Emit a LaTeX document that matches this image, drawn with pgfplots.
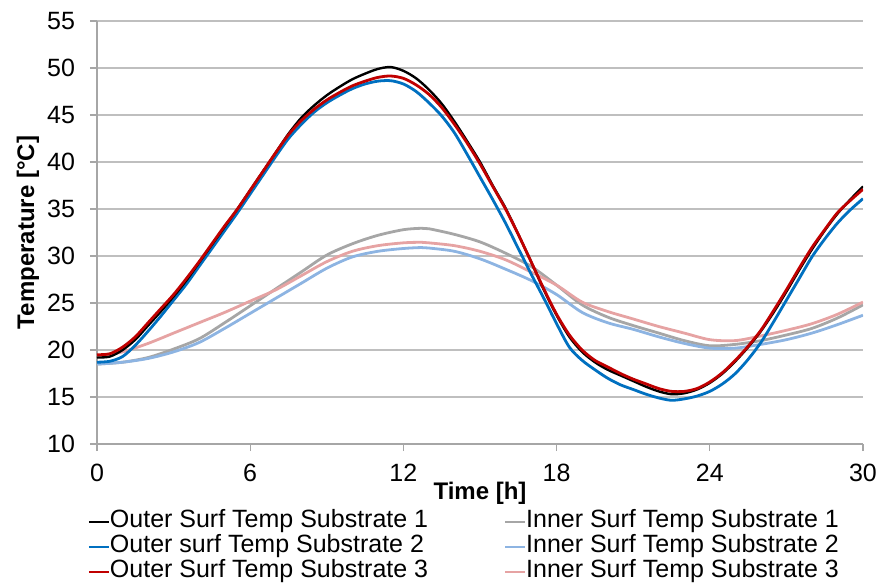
\documentclass[border=0pt]{standalone}
\usepackage{fontspec}
\setmainfont{Liberation Sans}
\usepackage{pgfplots}
\pgfplotsset{compat=1.18}
\definecolor{out2}{HTML}{0070C0}
\definecolor{out3}{HTML}{C00000}
\definecolor{in1}{HTML}{A6A6A6}
\definecolor{in2}{HTML}{8DB4E2}
\definecolor{in3}{HTML}{E6A3A3}
\definecolor{gridc}{HTML}{BFBFBF}
\definecolor{axisc}{HTML}{A6A6A6}

\pgfplotstableread{
x y
0 19.2
0.5 19.3
1 20.0
1.5 21.1
2 22.6
2.5 24.1
3 25.7
3.5 27.4
4 29.3
4.5 31.2
5 33.1
5.5 35.0
6 37.0
6.5 39.0
7 41.0
7.5 43.0
8 44.7
8.5 46.0
9 47.1
9.5 48.0
10 48.8
10.5 49.4
11 49.9
11.5 50.1
12 49.7
12.5 48.9
13 47.7
13.5 46.2
14 44.3
14.5 42.2
15 40.0
15.5 37.5
16 35.1
16.5 32.3
17 29.4
17.5 26.4
18 23.7
18.5 21.4
19 19.8
19.5 18.7
20 17.9
20.5 17.3
21 16.7
21.5 16.1
22 15.6
22.5 15.3
23 15.4
23.5 15.8
24 16.5
24.5 17.5
25 18.8
25.5 20.3
26 22.0
26.5 24.0
27 26.2
27.5 28.5
28 30.7
28.5 32.7
29 34.5
29.5 36.0
30 37.4
}\outA

\pgfplotstableread{
x y
0 18.7
0.5 18.8
1 19.3
1.5 20.5
2 22.0
2.5 23.6
3 25.3
3.5 27.0
4 28.9
4.5 30.8
5 32.7
5.5 34.6
6 36.6
6.5 38.6
7 40.6
7.5 42.5
8 44.0
8.5 45.3
9 46.3
9.5 47.1
10 47.8
10.5 48.3
11 48.6
11.5 48.65
12 48.3
12.5 47.5
13 46.3
13.5 44.9
14 43.1
14.5 40.8
15 38.4
15.5 36.0
16 33.5
16.5 30.8
17 28.1
17.5 25.5
18 22.8
18.5 20.3
19 18.9
19.5 17.9
20 17.0
20.5 16.3
21 15.8
21.5 15.3
22 14.9
22.5 14.65
23 14.8
23.5 15.1
24 15.6
24.5 16.4
25 17.5
25.5 19.0
26 20.8
26.5 23.0
27 25.3
27.5 27.6
28 29.9
28.5 31.8
29 33.5
29.5 34.9
30 36.1
}\outB

\pgfplotstableread{
x y
0 19.5
0.5 19.6
1 20.3
1.5 21.4
2 22.9
2.5 24.4
3 25.9
3.5 27.6
4 29.4
4.5 31.3
5 33.2
5.5 35.0
6 37.0
6.5 39.0
7 41.0
7.5 42.9
8 44.4
8.5 45.6
9 46.6
9.5 47.4
10 48.1
10.5 48.6
11 49.0
11.5 49.15
12 48.9
12.5 48.2
13 47.2
13.5 45.8
14 44.0
14.5 42.0
15 39.8
15.5 37.4
16 35.0
16.5 32.3
17 29.4
17.5 26.5
18 23.8
18.5 21.6
19 20.0
19.5 18.9
20 18.2
20.5 17.5
21 16.9
21.5 16.4
22 15.9
22.5 15.6
23 15.6
23.5 15.9
24 16.6
24.5 17.6
25 18.9
25.5 20.4
26 22.1
26.5 24.2
27 26.4
27.5 28.7
28 30.9
28.5 32.8
29 34.6
29.5 35.9
30 37.1
}\outC

\pgfplotstableread{
x y
0 18.5
1 18.7
2 19.2
3 20.1
4 21.2
5 22.9
6 24.7
7 26.5
8 28.3
9 30.1
10 31.3
11 32.2
12 32.8
12.7 32.95
13 32.9
14 32.3
15 31.5
16 30.3
17 28.9
18 26.9
19 24.8
20 23.5
21 22.6
22 21.8
23 21.0
24 20.45
25 20.6
26 21.0
27 21.6
28 22.3
29 23.4
30 24.8
}\inA

\pgfplotstableread{
x y
0 18.5
1 18.7
2 19.1
3 19.8
4 20.8
5 22.3
6 23.9
7 25.5
8 27.1
9 28.7
10 29.9
11 30.5
12 30.8
12.7 30.9
13 30.85
14 30.5
15 29.7
16 28.6
17 27.4
18 25.9
19 24.0
20 22.9
21 22.2
22 21.4
23 20.7
24 20.2
25 20.2
26 20.6
27 21.1
28 21.8
29 22.7
30 23.7
}\inB

\pgfplotstableread{
x y
0 19.3
1 19.8
2 20.7
3 21.8
4 22.9
5 24.0
6 25.2
7 26.4
8 27.9
9 29.4
10 30.5
11 31.1
12 31.4
12.7 31.46
13 31.4
14 31.1
15 30.5
16 29.6
17 28.3
18 26.9
19 25.1
20 24.1
21 23.3
22 22.5
23 21.8
24 21.1
25 21.0
26 21.5
27 22.1
28 22.8
29 23.8
30 25.1
}\inC

\begin{document}
\begin{tikzpicture}
\useasboundingbox (-48.5pt,-70.5pt) rectangle (391pt,222pt);
\begin{axis}[
    scale only axis,
    width=383pt,
    height=211.5pt,
    xmin=0, xmax=30,
    ymin=10, ymax=55,
    xtick={0,6,...,30},
    ytick={10,15,...,55},
    axis lines*=left,
    axis line style={axisc, line width=0.6pt},
    ymajorgrids,
    grid style={gridc, line width=0.6pt},
    tick align=outside,
    major tick length=3.5pt,
    tick style={axisc, line width=0.6pt},
    /pgf/number format/assume math mode=true,
    tick label style={font=\fontsize{12.5}{14}\selectfont},
    yticklabel style={xshift=-4pt},
    xticklabel style={yshift=-3pt},
    xlabel={\bfseries Time [h]},
    ylabel={\bfseries Temperature [°C]},
    label style={font=\fontsize{12}{14}\selectfont},
    xlabel style={at={(axis description cs:0.5,0)}, anchor=base, yshift=-27.5pt},
    ylabel style={at={(axis description cs:-0.0822,0.5)}, anchor=base},
    legend columns=2,
    legend cell align=left,
    legend style={
        at={(axis description cs:-0.0118,-0.1537)},
        anchor=north west,
        draw=none, fill=none,
        inner sep=0pt, outer sep=0pt,
        font=\fontsize{12.5}{12.5}\selectfont,
        nodes={inner sep=0pt, text height=9pt, text depth=3.5pt},
        /tikz/every even column/.append style={column sep=38pt},
    },
    legend image code/.code={\draw[#1, line width=1pt] (0pt,0pt) -- (10pt,0pt);},
    every axis plot/.append style={line width=1.4pt},
]
\addlegendimage{black}
\addlegendentry{Outer Surf Temp Substrate 1}
\addlegendimage{in1}
\addlegendentry{Inner Surf Temp Substrate 1}
\addlegendimage{out2}
\addlegendentry{Outer surf Temp Substrate 2}
\addlegendimage{in2}
\addlegendentry{Inner Surf Temp Substrate 2}
\addlegendimage{out3}
\addlegendentry{Outer Surf Temp Substrate 3}
\addlegendimage{in3}
\addlegendentry{Inner Surf Temp Substrate 3}

\addplot[in1, smooth, forget plot] table {\inA};
\addplot[in2, smooth, forget plot] table {\inB};
\addplot[in3, smooth, forget plot] table {\inC};
\addplot[out2, smooth, forget plot] table {\outB};
\addplot[black, line width=1.2pt, smooth, forget plot] table {\outA};
\addplot[out3, smooth, forget plot] table {\outC};
\end{axis}
\end{tikzpicture}
\end{document}
